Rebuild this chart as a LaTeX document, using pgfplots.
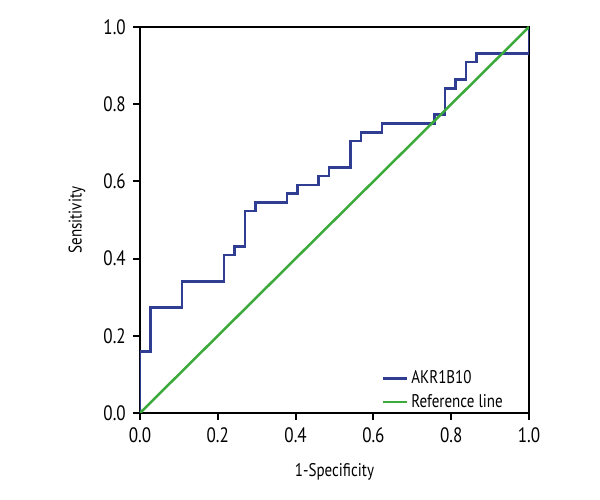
\documentclass[border=0pt]{standalone}
\usepackage{fontspec}
\setmainfont[FakeStretch=0.82]{PT Sans}
\usepackage{pgfplots}
\pgfplotsset{compat=1.18}
\definecolor{rocblue}{HTML}{2F3E92}
\definecolor{refgreen}{HTML}{3BAA3A}
\begin{document}
\begin{tikzpicture}[x=1pt,y=1pt]
\path (-84pt,-52.2pt) rectangle (276pt,247.8pt);
\begin{axis}[
  at={(0pt,0pt)}, anchor=south west,
  scale only axis,
  width=233.4pt, height=231.6pt,
  xmin=0, xmax=1, ymin=0, ymax=1,
  xtick={0,0.2,...,1.0}, ytick={0,0.2,...,1.0},
  /pgf/number format/.cd, fixed, fixed zerofill, precision=1, assume math mode=true,
  /pgfplots/.cd,
  tick align=outside, tick pos=left,
  major tick length=4pt,
  every tick/.style={black, line width=1.2pt},
  axis line style={black, line width=1.6pt},
  ticklabel style={font=\fontsize{12.5}{14}\selectfont},
  xticklabel style={yshift=-1pt},
  yticklabel style={xshift=-1pt},
  xlabel={1-Specificity}, ylabel={Sensitivity},
  label style={font=\fontsize{11}{12}\selectfont},
  xlabel style={yshift=-6pt},
  ylabel style={yshift=4pt},
  legend style={draw=none, fill=none, at={(0.955,-0.01)}, anchor=south east,
    font=\fontsize{11}{12}\selectfont, row sep=1pt},
  legend cell align=left,
  legend image code/.code={\draw[#1] (0pt,0pt) -- (14pt,0pt);},
]
\addplot[rocblue, line width=1.6pt, line join=miter] coordinates {
(0,0) (0,0.159) (0.027,0.159) (0.027,0.273) (0.108,0.273) (0.108,0.341)
(0.216,0.341) (0.216,0.409) (0.243,0.409) (0.243,0.432) (0.270,0.432)
(0.270,0.523) (0.297,0.523) (0.297,0.545) (0.378,0.545) (0.378,0.568)
(0.405,0.568) (0.405,0.591) (0.459,0.591) (0.459,0.614) (0.486,0.614)
(0.486,0.636) (0.541,0.636) (0.541,0.705) (0.568,0.705) (0.568,0.727)
(0.622,0.727) (0.622,0.750) (0.757,0.750) (0.757,0.773) (0.784,0.773)
(0.784,0.841) (0.811,0.841) (0.811,0.864) (0.838,0.864) (0.838,0.909)
(0.865,0.909) (0.865,0.932) (1,0.932) (1,1)
};
\addlegendentry{AKR1B10}
\addplot[refgreen, line width=1.5pt] coordinates {(0,0) (1,1)};
\addlegendentry{Reference line}
\end{axis}
\end{tikzpicture}
\end{document}
